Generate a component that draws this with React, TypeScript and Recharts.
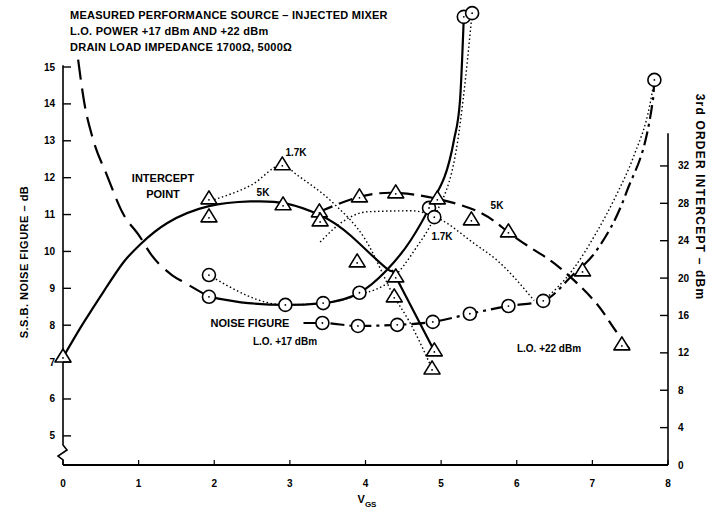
import React from "react";
import { ComposedChart, Line, Scatter, XAxis, YAxis, ReferenceLine } from "recharts";

type Pt = [number, number];

const xTicks = [0, 1, 2, 3, 4, 5, 6, 7, 8];
const nfTicks = [5, 6, 7, 8, 9, 10, 11, 12, 13, 14, 15];
const ipTicks = [0, 4, 8, 12, 16, 20, 24, 28, 32];

// noise figure curves (left axis, dB)
const nf17Extrap: Pt[] = [
  [0.2, 15.2], [0.28, 14.05], [0.4, 13.02], [0.58, 12.07], [0.79, 11.04],
  [1.02, 10.39], [1.15, 9.96], [1.44, 9.36], [1.61, 9.15], [1.93, 8.77],
];
const nf17Solid: Pt[] = [
  [1.93, 8.77], [2.45, 8.6], [2.94, 8.55], [3.44, 8.6], [3.92, 8.88], [4.27, 9.47],
  [4.6, 10.31], [4.84, 11.18], [5.17, 13.02], [5.25, 14.1], [5.3, 16.36],
];
const nf17Dotted: Pt[] = [
  [1.93, 9.36], [2.94, 8.55], [3.44, 8.6], [3.91, 8.82], [4.34, 9.23], [4.67, 10.1],
  [4.91, 10.93], [5.22, 13.0], [5.29, 14.1], [5.41, 16.46],
];
const nf22DashDot: Pt[] = [
  [3.18, 8.06], [3.43, 8.06], [3.9, 7.98], [4.42, 8.01], [4.89, 8.09], [5.38, 8.31],
  [5.89, 8.52], [6.35, 8.66], [6.73, 9.34], [7.06, 10.04], [7.45, 11.6], [7.8, 14.1], [7.82, 14.65],
];
const nf22Dotted: Pt[] = [
  [6.35, 8.66], [6.75, 9.53], [7.05, 10.5], [7.31, 11.5], [7.55, 12.6], [7.76, 13.97], [7.82, 14.65],
];

// intercept curves (right axis, dBm)
const ip17Solid: Pt[] = [
  [0, 11.5], [0.27, 15.2], [0.58, 19.1], [0.8, 21.7], [1.02, 23.6], [1.38, 25.9], [1.93, 27.7],
  [2.48, 28.2], [2.94, 28.0], [3.41, 26.7], [3.81, 24.5], [4.3, 20.9], [4.4, 20.13], [4.91, 12.2],
];
const ip17Dotted: Pt[] = [
  [2.0, 28.4], [2.5, 30.0], [2.9, 32.1], [3.1, 31.0], [3.57, 28.05], [4.0, 24.1],
  [4.38, 18.0], [4.59, 15.2], [4.88, 10.3],
];
const ip22Dashed: Pt[] = [
  [3.39, 27.1], [3.92, 28.69], [4.4, 29.12], [4.95, 28.48], [5.52, 27.0], [5.89, 24.9],
  [6.27, 22.8], [6.57, 21.1], [7.01, 17.7], [7.27, 14.8], [7.53, 12.0],
];
const ip22Dotted: Pt[] = [
  [3.4, 23.85], [3.71, 26.1], [4.03, 27.1], [4.6, 27.2], [4.91, 26.6], [5.01, 26.2],
  [5.42, 23.8], [5.74, 21.9], [6.23, 17.6],
];

// measured points
const nfPoints: Pt[] = [
  [1.93, 8.77], [1.93, 9.36], [2.94, 8.55], [3.44, 8.6], [3.92, 8.88], [4.84, 11.18],
  [4.91, 10.93], [5.3, 16.36], [5.41, 16.46],
  [3.43, 8.06], [3.9, 7.98], [4.42, 8.01], [4.89, 8.09], [5.38, 8.31], [5.89, 8.52],
  [6.35, 8.66], [7.82, 14.65],
];
const ipPoints: Pt[] = [
  [0, 11.56], [1.93, 28.48], [1.93, 26.55], [2.9, 32.12], [2.91, 27.84], [3.39, 27.09],
  [3.4, 26.12], [3.89, 21.73], [3.92, 28.69], [4.4, 29.12], [4.4, 20.13], [4.38, 17.99],
  [4.95, 28.48], [4.91, 12.21], [4.88, 10.28], [5.4, 26.23], [5.89, 24.95], [6.87, 20.77],
  [7.39, 12.85],
];

const rows = (pts: Pt[]) => pts.map(([x, y]) => ({ x, y }));

const FONT = '"Liberation Sans", Arial, sans-serif';

const CircleMark = (p: any) => (
  <g>
    <circle cx={p.cx} cy={p.cy} r={6.5} fill="#fff" stroke="#000" strokeWidth={1.6} />
    <circle cx={p.cx} cy={p.cy} r={0.9} fill="#000" />
  </g>
);

const TriMark = (p: any) => {
  const { cx, cy } = p;
  return (
    <g>
      <path
        d={`M${cx},${cy - 8} L${cx + 8},${cy + 5} L${cx - 8},${cy + 5} Z`}
        fill="#fff"
        stroke="#000"
        strokeWidth={1.6}
        strokeLinejoin="round"
      />
      <circle cx={cx} cy={cy + 1} r={0.9} fill="#000" />
    </g>
  );
};

const BrokenAxis = (p: any) => {
  const { x1, y1, y2 } = p;
  const top = Math.min(y1, y2);
  const bot = Math.max(y1, y2);
  const d = `M${x1},${top} L${x1},${bot - 20} L${x1 + 4},${bot - 15} L${x1 - 5},${bot - 9} L${x1},${bot - 5} L${x1},${bot}`;
  return <path d={d} fill="none" stroke="#000" strokeWidth={1.6} />;
};

const LEFT = 63;
const RIGHT = 668;
const BOTTOM = 465;

const LeftTick = (p: any) => (
  <g>
    <line x1={LEFT} x2={LEFT + 8} y1={p.y} y2={p.y} stroke="#000" strokeWidth={1.4} />
    <text x={LEFT - 8} y={p.y} textAnchor="end" dominantBaseline="central"
      fontFamily={FONT} fontWeight="bold" fontSize={10}>{p.payload.value}</text>
  </g>
);

const RightTick = (p: any) => (
  <g>
    <line x1={RIGHT - 8} x2={RIGHT} y1={p.y} y2={p.y} stroke="#000" strokeWidth={1.4} />
    <text x={RIGHT + 10} y={p.y} textAnchor="start" dominantBaseline="central"
      fontFamily={FONT} fontWeight="bold" fontSize={10}>{p.payload.value}</text>
  </g>
);

const BottomTick = (p: any) => (
  <g>
    <line x1={p.x} x2={p.x} y1={BOTTOM} y2={BOTTOM - 5} stroke="#000" strokeWidth={1.2} />
    <text x={p.x} y={BOTTOM + 18} textAnchor="middle" dominantBaseline="central"
      fontFamily={FONT} fontWeight="bold" fontSize={10}>{p.payload.value}</text>
  </g>
);

const Note = ({ x, y, children, size = 10 }: any) => (
  <span
    style={{
      position: "absolute",
      left: x,
      top: y,
      transform: "translate(-50%, -50%)",
      whiteSpace: "nowrap",
      fontSize: size,
      fontWeight: "bold",
      lineHeight: 1,
    }}
  >
    {children}
  </span>
);

const lineCommon = {
  type: "monotone" as const,
  dataKey: "y",
  stroke: "#000",
  dot: false,
  activeDot: false,
  isAnimationActive: false,
};

export default function App() {
  return (
    <div
      style={{
        position: "absolute",
        left: 0,
        top: 0,
        width: 709,
        height: 524,
        background: "#fff",
        fontFamily: FONT,
        color: "#000",
      }}
    >
      <ComposedChart
        width={709}
        height={524}
        margin={{ top: 8, right: 1, bottom: 29, left: 23 }}
      >
        <XAxis
          dataKey="x"
          type="number"
          domain={[0, 8]}
          ticks={xTicks}
          height={30}
          axisLine={{ stroke: "#000", strokeWidth: 2 }}
          tickLine={false}
          tick={BottomTick}
          interval={0}
        />
        <YAxis
          yAxisId="nf"
          type="number"
          domain={[4.21, 16.6]}
          ticks={nfTicks}
          width={40}
          axisLine={false}
          tickLine={false}
          tick={LeftTick}
          interval={0}
        />
        <YAxis
          yAxisId="ip"
          orientation="right"
          type="number"
          domain={[0, 48.9]}
          ticks={ipTicks}
          width={40}
          axisLine={false}
          tickLine={false}
          tick={RightTick}
          interval={0}
        />

        <ReferenceLine
          yAxisId="nf"
          segment={[{ x: 0, y: 4.21 }, { x: 0, y: 15.05 }]}
          shape={BrokenAxis}
        />
        <ReferenceLine
          yAxisId="ip"
          segment={[{ x: 8, y: 0 }, { x: 8, y: 35.5 }]}
          stroke="#000"
          strokeWidth={1.6}
        />

        <Line {...lineCommon} yAxisId="nf" data={rows(nf17Extrap)} strokeWidth={2.2} strokeDasharray="20 9" />
        <Line {...lineCommon} yAxisId="nf" data={rows(nf17Solid)} strokeWidth={2.2} />
        <Line {...lineCommon} yAxisId="nf" data={rows(nf17Dotted)} strokeWidth={1.4} strokeDasharray="1.5 2.5" />
        <Line {...lineCommon} yAxisId="nf" data={rows(nf22DashDot)} strokeWidth={2.2} strokeDasharray="14 5 3 5" />
        <Line {...lineCommon} yAxisId="nf" data={rows(nf22Dotted)} strokeWidth={1.4} strokeDasharray="1.5 2.5" />

        <Line {...lineCommon} type="natural" yAxisId="ip" data={rows(ip17Solid)} strokeWidth={2.2} />
        <Line {...lineCommon} yAxisId="ip" data={rows(ip17Dotted)} strokeWidth={1.4} strokeDasharray="1.5 2.5" />
        <Line {...lineCommon} type="natural" yAxisId="ip" data={rows(ip22Dashed)} strokeWidth={2.2} strokeDasharray="14 7" />
        <Line {...lineCommon} yAxisId="ip" data={rows(ip22Dotted)} strokeWidth={1.4} strokeDasharray="1.5 2.5" />

        <Scatter yAxisId="nf" data={rows(nfPoints)} dataKey="y" shape={CircleMark} isAnimationActive={false} />
        <Scatter yAxisId="ip" data={rows(ipPoints)} dataKey="y" shape={TriMark} isAnimationActive={false} />
      </ComposedChart>

      <div style={{ position: "absolute", left: 70, top: 8, fontSize: 11, letterSpacing: 0.25, fontWeight: "bold", lineHeight: "15.8px", whiteSpace: "nowrap" }}>
        <div>MEASURED PERFORMANCE SOURCE – INJECTED MIXER</div>
        <div>L.O. POWER +17 dBm AND +22 dBm</div>
        <div>DRAIN LOAD IMPEDANCE 1700Ω, 5000Ω</div>
      </div>

      <Note x={163} y={178} size={11}>INTERCEPT</Note>
      <Note x={163} y={194} size={11}>POINT</Note>
      <Note x={296} y={153}>1.7K</Note>
      <Note x={263} y={193}>5K</Note>
      <Note x={497} y={206}>5K</Note>
      <Note x={442} y={237}>1.7K</Note>
      <Note x={250} y={323} size={11}>NOISE FIGURE</Note>
      <Note x={285} y={342}>L.O. +17 dBm</Note>
      <Note x={549} y={349}>L.O. +22 dBm</Note>

      <span style={{ position: "absolute", left: 24, top: 262, transform: "translate(-50%, -50%) rotate(-90deg)", whiteSpace: "nowrap", fontSize: 11, letterSpacing: 0.5, fontWeight: "bold" }}>
        S.S.B. NOISE FIGURE – dB
      </span>
      <span style={{ position: "absolute", left: 700, top: 197, transform: "translate(-50%, -50%) rotate(90deg)", whiteSpace: "nowrap", fontSize: 12, letterSpacing: 1.2, fontWeight: "bold" }}>
        3rd ORDER INTERCEPT – dBm
      </span>
      <span style={{ position: "absolute", left: 367, top: 501, transform: "translate(-50%, -50%)", whiteSpace: "nowrap", fontSize: 11, fontWeight: "bold" }}>
        V<sub style={{ fontSize: 8 }}>GS</sub>
      </span>
    </div>
  );
}
